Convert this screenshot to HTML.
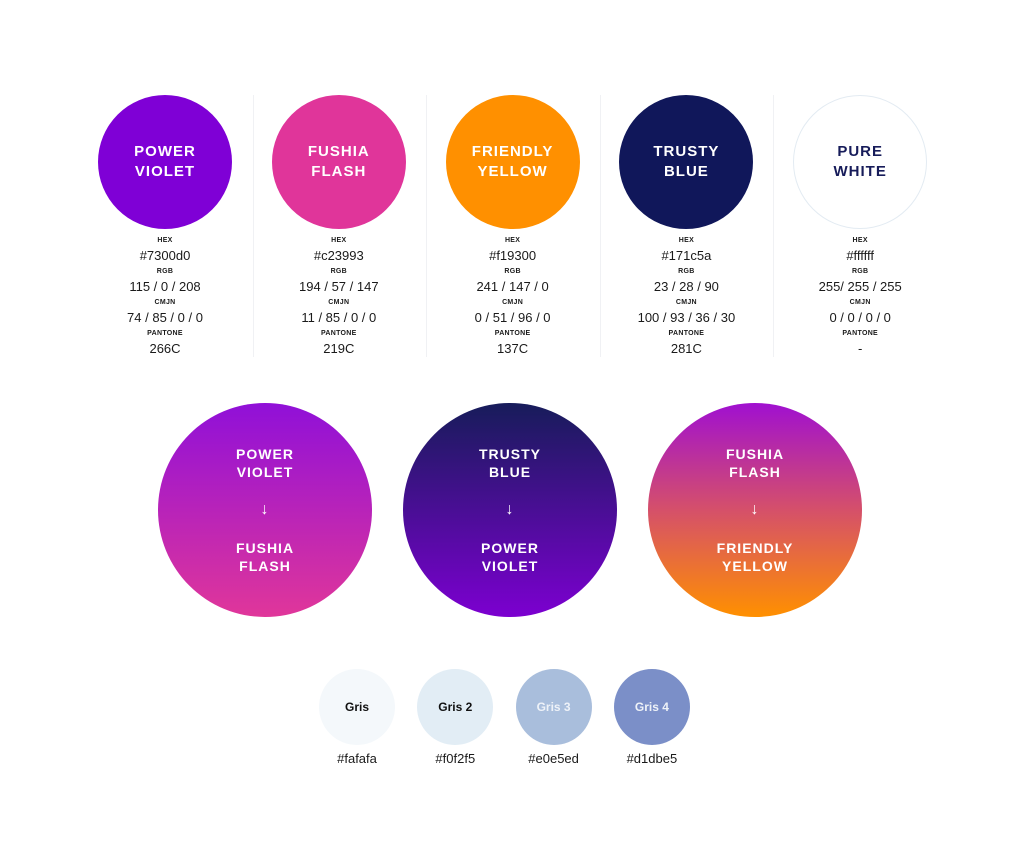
<!DOCTYPE html>
<html><head><meta charset="utf-8">
<style>
html,body{margin:0;padding:0;background:#fff;}
body{width:1024px;height:844px;position:relative;overflow:hidden;font-family:"Liberation Sans","DejaVu Sans",sans-serif;}
.c{position:absolute;border-radius:50%;display:flex;flex-direction:column;align-items:center;justify-content:center;color:#fff;font-weight:bold;text-align:center;}
.t{position:absolute;text-align:center;color:#1a1a1a;transform:translateX(-50%);white-space:nowrap;}
.lbl{font-size:7px;font-weight:bold;letter-spacing:0.3px;}
.val{font-size:13px;}
.sep{position:absolute;width:1px;background:#f0f1f4;top:95px;height:262px;}
</style></head>
<body>
<script>
const swatchNames=[["POWER","VIOLET"],["FUSHIA","FLASH"],["FRIENDLY","YELLOW"],["TRUSTY","BLUE"],["PURE","WHITE"]];
const swatchColors=["#7f00d6","#e0359a","#ff9000","#10175a","#ffffff"];
const hexVals=["#7300d0","#c23993","#f19300","#171c5a","#ffffff"];
const rgbVals=["115 / 0 / 208","194 / 57 / 147","241 / 147 / 0","23 / 28 / 90","255/ 255 / 255"];
const cmjnVals=["74 / 85 / 0 / 0","11 / 85 / 0 / 0","0 / 51 / 96 / 0","100 / 93 / 36 / 30","0 / 0 / 0 / 0"];
const pantoneVals=["266C","219C","137C","281C","-"];
const gradNames=[[["POWER","VIOLET"],["FUSHIA","FLASH"]],[["TRUSTY","BLUE"],["POWER","VIOLET"]],[["FUSHIA","FLASH"],["FRIENDLY","YELLOW"]]];
const gradStops=[["#9010d8","#e0369a"],["#171c5a","#7c00d0"],["#a010d0","#d5506a","#ff9000"]];
const grisNames=["Gris","Gris 2","Gris 3","Gris 4"];
const grisFills=["#f4f8fb","#e2edf5","#a9bedc","#7b8fc8"];
const grisHex=["#fafafa","#f0f2f5","#e0e5ed","#d1dbe5"];

const B=document.body;
function add(tag,cls,style,html){const e=document.createElement(tag);if(cls)e.className=cls;e.style.cssText=style;if(html!==undefined)e.innerHTML=html;B.appendChild(e);return e;}

[253,426,600,773].forEach(x=>{
 const s=add('div','sep','left:'+x+'px;');
 
 
});

swatchNames.forEach((n,i)=>{
 const cx=165+i*173.8;
 const white=swatchColors[i]==="#ffffff";
 const c=add('div','c','left:'+(cx-67)+'px;top:95px;width:134px;height:134px;background:'+swatchColors[i]+';font-size:15px;letter-spacing:1px;line-height:20px;'+(white?'color:#171c5a;box-shadow:inset 0 0 0 1px #e3ebf2;':''),n.join('<br>'));
 
 
 const rows=[["HEX",hexVals[i]],["RGB",rgbVals[i]],["CMJN",cmjnVals[i]],["PANTONE",pantoneVals[i]]];
 rows.forEach((r,j)=>{
  const y=237+j*31;
  const l=add('div','t lbl','left:'+cx+'px;top:'+y+'px;',r[0]);
  
  
  const v=add('div','t val','left:'+cx+'px;top:'+(y+11)+'px;',r[1]);
  
  
 });
});

gradNames.forEach((g,i)=>{
 const cx=265+i*245;
 const c=add('div','c','left:'+(cx-107)+'px;top:403px;width:214px;height:214px;background:linear-gradient(to bottom,'+gradStops[i].join(',')+');font-size:14px;letter-spacing:1px;line-height:18px;',
  g[0].join('<br>')+'<div style="height:20px"></div><div style="font-size:16px;line-height:18px">&#8595;</div><div style="height:20px"></div>'+g[1].join('<br>'));
 
 
});

grisNames.forEach((n,i)=>{
 const cx=357+i*98.3;
 const dark=i<2;
 const c=add('div','c','left:'+(cx-38)+'px;top:669px;width:76px;height:76px;background:'+grisFills[i]+';font-size:12px;color:'+(dark?'#111':'#eef2f8')+';',n);
 
 
 const h=add('div','t val','left:'+cx+'px;top:751px;',grisHex[i]);
 
 
});
</script>
</body></html>
